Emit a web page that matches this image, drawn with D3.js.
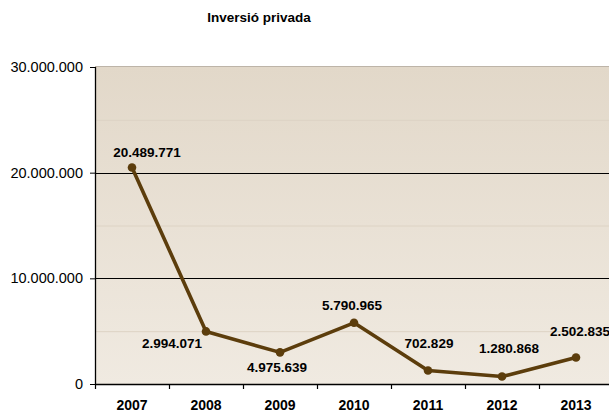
<!DOCTYPE html>
<html><head><meta charset="utf-8">
<script src="https://cdn.jsdelivr.net/npm/d3@7"></script>
<style>body{margin:0;background:#fff}svg{display:block}</style>
</head><body><svg id="c" width="609" height="412"></svg>
<script>
const title = "Inversió privada";
const years = ["2007","2008","2009","2010","2011","2012","2013"];
const values = [20489771, 4975639, 2994071, 5790965, 1280868, 702829, 2502835];
const labels = ["20.489.771","2.994.071","4.975.639","5.790.965","702.829","1.280.868","2.502.835"];
const yTicks = [0, 10000000, 20000000, 30000000];
const yMinor = [5000000, 15000000, 25000000];
// label offsets (layout)
const labelOffsets = [[15,-10],[-34,17],[-3,20],[-2,-13],[1,-22],[7,-24],[4,-22]];

const svg = d3.select("#c");
const m = {left:95, top:67, right:613, bottom:384};
const x = d3.scaleBand().domain(years).range([m.left, m.right]);
const y = d3.scaleLinear().domain([0,30000000]).range([m.bottom, m.top]);
const fmt = v => d3.format(",")(v).replace(/,/g,".");

const defs = svg.append("defs");
const g = defs.append("linearGradient").attr("id","bg").attr("x1",0).attr("y1",0).attr("x2",0).attr("y2",1);
g.append("stop").attr("offset","0%").attr("stop-color","#e2d8c9");
g.append("stop").attr("offset","100%").attr("stop-color","#f0eae1");

svg.append("rect").attr("x",m.left).attr("y",m.top).attr("width",m.right-m.left).attr("height",m.bottom-m.top).attr("fill","url(#bg)");

svg.selectAll(".minor").data(yMinor).join("line")
  .attr("x1",m.left).attr("x2",m.right).attr("y1",d=>y(d)+0.5).attr("y2",d=>y(d)+0.5)
  .attr("stroke","#ddd3c4").attr("stroke-width",1);

// top border
svg.append("line").attr("x1",m.left).attr("x2",m.right).attr("y1",m.top-0.5).attr("y2",m.top-0.5)
  .attr("stroke","#bdb4a8").attr("stroke-width",1.2);

svg.selectAll(".grid").data(yTicks.filter(d=>d>0 && d<30000000)).join("line")
  .attr("x1",m.left).attr("x2",m.right).attr("y1",d=>Math.round(y(d))+0.5).attr("y2",d=>Math.round(y(d))+0.5)
  .attr("stroke","#000").attr("stroke-width",1.2);

// y axis
const ya = svg.append("g").attr("transform",`translate(${m.left},0)`)
  .call(d3.axisLeft(y).tickValues(yTicks).tickFormat(fmt).tickSize(5).tickPadding(7));
ya.select(".domain").attr("stroke","#000").attr("stroke-width",1.3).attr("d",`M0.5,${m.top}V${m.bottom}`);
ya.selectAll(".tick line").attr("stroke","#000");
ya.selectAll("text").attr("font-family","Liberation Sans, Arial, sans-serif").attr("font-size","14.5px").attr("fill","#000");

// x axis
const xa = svg.append("g").attr("transform",`translate(0,${m.bottom})`)
  .call(d3.axisBottom(x).tickSize(0).tickPadding(0));
xa.select(".domain").attr("stroke","#000").attr("stroke-width",1.3);
xa.selectAll("text").attr("dy",null).attr("y",26).attr("font-family","Liberation Sans, Arial, sans-serif")
  .attr("font-size","14px").attr("font-weight","bold").attr("fill","#000");
const bounds = d3.range(years.length+1).map(i=>m.left + i*x.step());
svg.selectAll(".xt").data(bounds).join("line")
  .attr("x1",d=>d+0.5).attr("x2",d=>d+0.5).attr("y1",m.bottom).attr("y2",m.bottom+5)
  .attr("stroke","#000").attr("stroke-width",1.2);

const cx = d => x(d) + x.bandwidth()/2;
const line = d3.line().x((d,i)=>cx(years[i])).y(d=>y(d));
svg.append("path").datum(values).attr("d",line).attr("fill","none")
  .attr("stroke","#5c3d0c").attr("stroke-width",3.6).attr("stroke-linejoin","round");
svg.selectAll(".pt").data(values).join("circle")
  .attr("cx",(d,i)=>cx(years[i])).attr("cy",d=>y(d)).attr("r",4.3).attr("fill","#5c3d0c");

svg.selectAll(".lbl").data(values).join("text")
  .attr("x",(d,i)=>cx(years[i])+labelOffsets[i][0]).attr("y",(d,i)=>y(d)+labelOffsets[i][1])
  .attr("text-anchor","middle").attr("font-family","Liberation Sans, Arial, sans-serif")
  .attr("font-size","13.5px").attr("font-weight","bold").attr("fill","#000")
  .text((d,i)=>labels[i]);

svg.append("text").attr("x",259).attr("y",22).attr("text-anchor","middle")
  .attr("font-family","Liberation Sans, Arial, sans-serif").attr("font-size","13.5px").attr("font-weight","bold")
  .text(title);
</script></body></html>
